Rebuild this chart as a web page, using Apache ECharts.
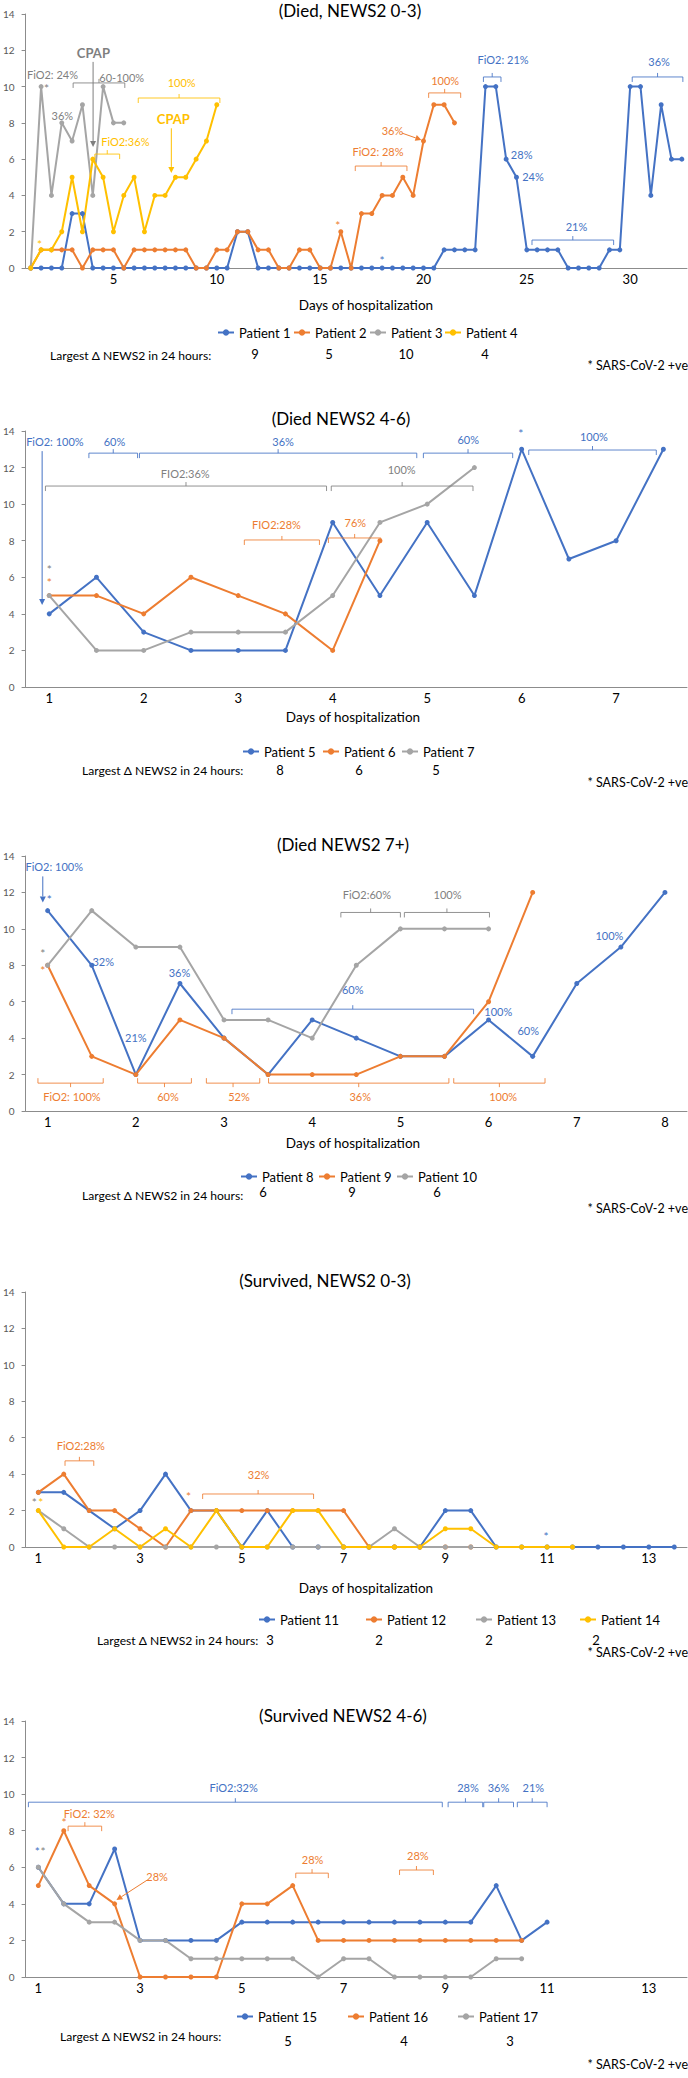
<!DOCTYPE html>
<html><head><meta charset="utf-8">
<script src="https://cdn.jsdelivr.net/npm/echarts@6/dist/echarts.min.js"></script>
<style>html,body{margin:0;padding:0;background:#fff}#c{width:688px;height:2078px}</style>
</head><body><div id="c"></div>
<script>
// ===================== DATA =====================
// Panel 1: Died, NEWS2 0-3 (readings every 12 h)
const p1Names = ['Patient 1','Patient 2','Patient 3','Patient 4'];
const patient1 = [0,0,0,0,3,3,0,0,0,0,0,0,0,0,0,0,0,0,0,0,2,2,0,0,0,0,0,0,0,0,0,0,0,0,0,0,0,0,0,0,1,1,1,1,10,10,6,5,1,1,1,1,0,0,0,0,1,1,10,10,4,9,6,6];
const patient2 = [0,1,1,1,1,0,1,1,1,0,1,1,1,1,1,1,0,0,1,1,2,2,1,1,0,0,1,1,0,0,2,0,3,3,4,4,5,4,7,9,9,8];
const patient3 = [0,10,4,8,7,9,4,10,8,8];
const patient4 = [0,1,1,2,5,2,6,5,2,4,5,2,4,4,5,5,6,7,9];
const p1TickIdx = [8,18,28,38,48,58];
const p1TickLabels = ['5','10','15','20','25','30'];
const p1Largest = ['9','5','10','4'];

// Panel 2: Died NEWS2 4-6
const p2Names = ['Patient 5','Patient 6','Patient 7'];
const patient5 = [4,6,3,2,2,2,9,5,9,5,13,7,8,13];
const patient6 = [5,5,4,6,5,4,2,8];
const patient7 = [5,2,2,3,3,3,5,9,10,12];
const p2TickIdx = [0,2,4,6,8,10,12];
const p2TickLabels = ['1','2','3','4','5','6','7'];
const p2Largest = ['8','6','5'];

// Panel 3: Died NEWS2 7+
const p3Names = ['Patient 8','Patient 9','Patient 10'];
const patient8 = [11,8,2,7,4,2,5,4,3,3,5,3,7,9,12];
const patient9 = [8,3,2,5,4,2,2,2,3,3,6,12];
const patient10 = [8,11,9,9,5,5,4,8,10,10,10];
const p3TickIdx = [0,2,4,6,8,10,12,14];
const p3TickLabels = ['1','2','3','4','5','6','7','8'];
const p3Largest = ['6','9','6'];

// Panel 4: Survived, NEWS2 0-3
const p4Names = ['Patient 11','Patient 12','Patient 13','Patient 14'];
const patient11 = [3,3,2,1,2,4,2,2,0,2,0,0,0,0,0,0,2,2,0,0,0,0,0,0,0,0];
const patient12 = [3,4,2,2,1,0,2,2,2,2,2,2,2,0,0,0,0,0];
const patient13 = [2,1,0,0,0,0,0,0,0,0,0,0,0,0,1,0,0,0];
const patient14 = [2,0,0,1,0,1,0,2,0,0,2,2,0,0,0,0,1,1,0,0,0,0];
const p4TickIdx = [0,4,8,12,16,20,24];
const p4TickLabels = ['1','3','5','7','9','11','13'];
const p4Largest = ['3','2','2','2'];

// Panel 5: Survived NEWS2 4-6
const p5Names = ['Patient 15','Patient 16','Patient 17'];
const patient15 = [6,4,4,7,2,2,2,2,3,3,3,3,3,3,3,3,3,3,5,2,3];
const patient16 = [5,8,5,4,0,0,0,0,4,4,5,2,2,2,2,2,2,2,2,2];
const patient17 = [6,4,3,3,2,2,1,1,1,1,1,0,1,1,0,0,0,0,1,1];
const p5TickIdx = [0,4,8,12,16,20,24];
const p5TickLabels = ['1','3','5','7','9','11','13'];
const p5Largest = ['5','4','3'];

// Annotations in data coordinates: [index, value, text, colour, bold]
const p1Notes = [[2.1,10.65,'FiO2: 24%','g'],[1.53,9.9,'*','g'],[3.06,8.43,'36%','g'],[6.06,11.85,'CPAP','g',1],[8.8,10.5,'60-100%','g'],
 [14.6,10.2,'100%','y'],[13.8,8.2,'CPAP','y',1],[9.15,7.0,'FiO2:36%','y'],[0.86,1.27,'*','y'],[29.7,2.37,'*','o'],[34.0,0.44,'*','b'],
 [33.6,6.4,'FiO2: 28%','o'],[35.0,7.6,'36%','o'],[40.1,10.36,'100%','o'],[45.7,11.47,'FiO2: 21%','b'],[47.5,6.28,'28%','b'],
 [48.6,5.07,'24%','b'],[52.8,2.3,'21%','b'],[60.8,11.36,'36%','b']];
const p1Brackets = [[4.1,9.1,10.2,'g',1],[10.4,18.3,9.37,'y',1],[6.2,8.6,6.28,'y',1],[31.4,36.4,5.62,'o',1],[38.5,41.6,9.65,'o',1],
 [43.8,45.5,10.53,'b',1],[48.5,56.4,1.54,'b',1],[58.2,63.1,10.53,'b',1]];
const p1Arrows = [[6.03,11.36,6.03,6.67,'g'],[13.6,7.7,13.6,5.24,'y'],[35.9,7.44,37.8,7.06,'o']];

const p2Notes = [[0.12,13.45,'FiO2: 100%','b'],[1.38,13.45,'60%','b'],[4.95,13.45,'36%','b'],[8.87,13.56,'60%','b'],[9.98,13.89,'*','b'],
 [11.53,13.72,'100%','b'],[2.88,11.7,'FIO2:36%','g'],[7.46,11.92,'100%','g'],[4.81,8.86,'FIO2:28%','o'],[6.48,8.97,'76%','o'],
 [0,6.45,'*','g'],[0,5.69,'*','o']];
const p2Brackets = [[0.84,1.87,12.79,'b',1],[1.91,7.78,12.79,'b',1],[7.92,9.81,12.79,'b',1],[10.15,12.85,12.96,'b',1],
 [-0.08,5.87,10.99,'g',1],[5.97,8.97,10.99,'g',1],[4.13,5.72,8.04,'o',1],[5.91,7.02,8.15,'o',1]];
const p2Arrows = [[-0.15,12.9,-0.15,4.48,'b']];

const p3Notes = [[0.15,13.42,'FiO2: 100%','b'],[0.04,11.6,'*','b'],[-0.11,8.66,'*','g'],[-0.11,7.73,'*','o'],[1.26,8.22,'32%','b'],
 [2.0,4.05,'21%','b'],[2.99,7.62,'36%','b'],[6.92,6.68,'60%','b'],[10.22,5.48,'100%','b'],[10.9,4.44,'60%','b'],[12.74,9.64,'100%','b'],
 [7.24,11.89,'FiO2:60%','g'],[9.07,11.89,'100%','g'],[0.55,0.77,'FiO2: 100%','o'],[2.73,0.77,'60%','o'],[4.34,0.77,'52%','o'],
 [7.09,0.77,'36%','o'],[10.33,0.77,'100%','o']];
const p3Brackets = [[4.18,9.66,5.59,'b',1],[6.65,8.0,10.9,'g',1],[8.09,10.02,10.9,'g',1],[-0.22,1.26,1.53,'o',-1],[2.04,3.26,1.53,'o',-1],
 [3.6,4.81,1.53,'o',-1],[5.01,9.1,1.53,'o',-1],[9.21,11.28,1.53,'o',-1]];
const p3Arrows = [[-0.11,12.88,-0.11,11.45,'b']];

const p4Notes = [[1.67,5.6,'FiO2:28%','o'],[8.66,3.96,'32%','o'],[5.91,2.8,'*','o'],[-0.16,2.47,'*','g'],[0.1,2.47,'*','y'],[19.96,0.6,'*','b']];
const p4Brackets = [[1.05,2.18,4.73,'o',1],[6.46,10.82,2.91,'o',1]];
const p4Arrows = [];

const p5Notes = [[7.68,10.38,'FiO2:32%','b'],[16.89,10.38,'28%','b'],[18.09,10.38,'36%','b'],[19.46,10.38,'21%','b'],
 [2.0,8.96,'FiO2: 32%','o'],[1.01,8.47,'*','o'],[-0.04,6.89,'*','b'],[0.19,6.89,'*','g'],[4.67,5.52,'28%','o'],
 [10.78,6.45,'28%','o'],[14.92,6.67,'28%','o']];
const p5Brackets = [[-0.39,15.88,9.56,'b',1],[16.11,17.47,9.56,'b',1],[17.51,18.68,9.56,'b',1],[18.83,20.0,9.56,'b',1],
 [1.17,2.49,8.25,'o',1],[10.12,11.4,5.68,'o',1],[14.2,15.53,5.85,'o',1]];
const p5Arrows = [[4.28,5.3,3.07,4.21,'o']];

// ===================== STYLE / LAYOUT =====================
const FONT = 'Lato, "Noto Sans", sans-serif';
const BLUE='#4472C4', ORANGE='#ED7D31', GRAY='#A5A5A5', YELLOW='#FFC000';
const ANN = {b:'#4472C4', o:'#ED7D31', g:'#7F7F7F', y:'#FFC000'};
const AXIS = '#8C8C8C';

const panels = [
 {title:'(Died, NEWS2 0-3)', names:p1Names, data:[patient1,patient2,patient3,patient4], colors:[BLUE,ORANGE,GRAY,YELLOW], n:64,
  tickIdx:p1TickIdx, tickLabels:p1TickLabels, largest:p1Largest, notes:p1Notes, brackets:p1Brackets, arrows:p1Arrows,
  top:14, h:254, titlePos:[350,10], days:[366,305], legendX:[217,293,369,444], legendY:333, largestPos:[50,355], valX:[255,329,406,485], valY:354, sarsY:365},
 {title:'(Died NEWS2 4-6)', names:p2Names, data:[patient5,patient6,patient7], colors:[BLUE,ORANGE,GRAY], n:14,
  tickIdx:p2TickIdx, tickLabels:p2TickLabels, largest:p2Largest, notes:p2Notes, brackets:p2Brackets, arrows:p2Arrows,
  top:431, h:256, titlePos:[341,418], days:[353,717], legendX:[242,322,401], legendY:752, largestPos:[82,770], valX:[280,359,436], valY:770, sarsY:782},
 {title:'(Died NEWS2 7+)', names:p3Names, data:[patient8,patient9,patient10], colors:[BLUE,ORANGE,GRAY], n:15,
  tickIdx:p3TickIdx, tickLabels:p3TickLabels, largest:p3Largest, notes:p3Notes, brackets:p3Brackets, arrows:p3Arrows,
  top:856, h:255, titlePos:[343,844], days:[353,1143], legendX:[240,318,396], legendY:1177, largestPos:[82,1195], valX:[263,352,437], valY:1192, sarsY:1208},
 {title:'(Survived, NEWS2 0-3)', names:p4Names, data:[patient11,patient12,patient13,patient14], colors:[BLUE,ORANGE,GRAY,YELLOW], n:26,
  tickIdx:p4TickIdx, tickLabels:p4TickLabels, largest:p4Largest, notes:p4Notes, brackets:p4Brackets, arrows:p4Arrows,
  top:1292, h:255, titlePos:[325,1280], days:[366,1588], legendX:[258,365,475,579], legendY:1620, largestPos:[97,1640], valX:[270,379,489,596], valY:1640, sarsY:1652},
 {title:'(Survived NEWS2 4-6)', names:p5Names, data:[patient15,patient16,patient17], colors:[BLUE,ORANGE,GRAY], n:26,
  tickIdx:p5TickIdx, tickLabels:p5TickLabels, largest:p5Largest, notes:p5Notes, brackets:p5Brackets, arrows:p5Arrows,
  top:1721, h:256, titlePos:[343,1715], days:null, legendX:[236,347,457], legendY:2017, largestPos:[60,2036], valX:[288,404,510], valY:2041, sarsY:2064}
];

// ===================== BUILD =====================
const chart = echarts.init(document.getElementById('c'), null, {renderer:'svg', width:688, height:2078});
const grids=[], xAxes=[], yAxes=[], series=[], legends=[];
panels.forEach((p,k)=>{
  grids.push({left:19, top:p.top, width:668, height:p.h});
  xAxes.push({type:'value', gridIndex:k, min:-0.5, max:p.n-0.5,
    axisLine:{show:true, onZero:false, lineStyle:{color:AXIS, width:1}}, axisTick:{show:false}, splitLine:{show:false},
    axisLabel:{customValues:p.tickIdx, formatter:(v)=>{const j=p.tickIdx.indexOf(v); return j>=0?p.tickLabels[j]:'';},
      fontSize:13, color:'#000', margin:4, fontFamily:FONT}});
  yAxes.push({type:'value', gridIndex:k, min:0, max:14, interval:2,
    axisLine:{show:true, onZero:false, lineStyle:{color:AXIS, width:1}}, axisTick:{show:true, length:4, lineStyle:{color:AXIS}},
    splitLine:{show:false}, axisLabel:{fontSize:10, color:'#595959', margin:11, fontFamily:FONT}});
  p.names.forEach((name,j)=>{
    series.push({type:'line', name, xAxisIndex:k, yAxisIndex:k, data:p.data[j].map((v,i)=>[i,v]),
      symbol:'circle', symbolSize:5, showSymbol:true, lineStyle:{width:2, color:p.colors[j]}, itemStyle:{color:p.colors[j]},
      animation:false});
    legends.push({data:[name], left:p.legendX[j], top:p.legendY-7, itemWidth:16, itemHeight:8, padding:0, selectedMode:false,
      textStyle:{fontSize:13, color:'#000', fontFamily:FONT}});
  });
});
chart.setOption({animation:false, backgroundColor:'#fff', grid:grids, xAxis:xAxes, yAxis:yAxes, series, legend:legends});

// graphics: titles, labels and annotations
const g = [];
function txt(x,y,text,o){o=o||{};
  g.push({type:'text', x, y, silent:true, z:10, style:{text, fill:o.fill||'#000', font:(o.bold?'bold ':'')+(o.size||13)+'px '+FONT,
    align:o.align||'center', verticalAlign:'middle'}});
}
panels.forEach((p,k)=>{
  const P=(x,v)=>chart.convertToPixel({gridIndex:k},[x,v]);
  txt(p.titlePos[0], p.titlePos[1], p.title, {size:17});
  if(p.days) txt(p.days[0], p.days[1], 'Days of hospitalization', {size:13.5});
  txt(p.largestPos[0], p.largestPos[1], 'Largest \u0394 NEWS2 in 24 hours:', {size:12.1, align:'left'});
  p.largest.forEach((v,j)=>txt(p.valX[j], p.valY, v, {size:13}));
  txt(688, p.sarsY, '* SARS-CoV-2 +ve', {size:12.5, align:'right'});
  p.notes.forEach(n=>{const q=P(n[0],n[1]);
    txt(q[0], q[1], n[2], {fill:ANN[n[3]], size:n[4]?13:(n[2]==='*'?12:11), bold:!!n[4]});});
  p.brackets.forEach(b=>{const a=P(b[0],b[2]), c=P(b[1],b[2]); const y=a[1], d=b[4], col=ANN[b[3]], xm=(a[0]+c[0])/2;
    g.push({type:'polyline', silent:true, z:9, shape:{points:[[a[0],y+5*d],[a[0],y],[c[0],y],[c[0],y+5*d]]}, style:{stroke:col, lineWidth:1, fill:null, opacity:0.85}});
    g.push({type:'line', silent:true, z:9, shape:{x1:xm,y1:y,x2:xm,y2:y-4*d}, style:{stroke:col, lineWidth:1, opacity:0.85}});
  });
  p.arrows.forEach(a=>{const s=P(a[0],a[1]), e=P(a[2],a[3]); const col=ANN[a[4]];
    const ang=Math.atan2(e[1]-s[1], e[0]-s[0]); const L=6, W=3;
    const bx=e[0]-L*Math.cos(ang), by=e[1]-L*Math.sin(ang);
    g.push({type:'line', silent:true, z:9, shape:{x1:s[0],y1:s[1],x2:bx,y2:by}, style:{stroke:col, lineWidth:1}});
    g.push({type:'polygon', silent:true, z:9, shape:{points:[[e[0],e[1]],[bx-W*Math.sin(ang),by+W*Math.cos(ang)],[bx+W*Math.sin(ang),by-W*Math.cos(ang)]]}, style:{fill:col}});
  });
});
chart.setOption({graphic:g});
</script>
</body></html>
